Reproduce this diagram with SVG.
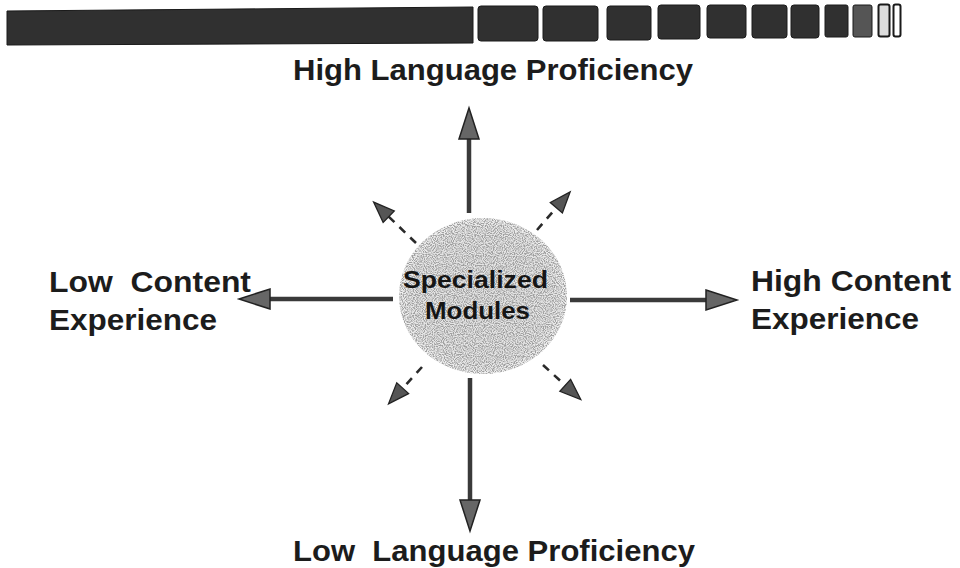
<svg xmlns="http://www.w3.org/2000/svg" width="960" height="568" viewBox="0 0 960 568">
  <style>
    .lbl { font-family: "Liberation Sans", Arial, sans-serif; font-weight: bold; font-size: 29px; fill: #1c1c1c; }
    .ctr { font-family: "Liberation Sans", Arial, sans-serif; font-weight: bold; font-size: 24px; fill: #151515; }
    .blk { fill: #303030; stroke: #1a1a1a; stroke-width: 1; }
    .shaft { stroke: #3a3a3a; stroke-width: 4.5; fill: none; }
    .dash { stroke: #2a2a2a; stroke-width: 2.6; fill: none; stroke-dasharray: 8 7; }
  </style>
  <defs>
    <marker id="headBig" markerUnits="userSpaceOnUse" markerWidth="32" markerHeight="22" viewBox="0 0 32 22" refX="1" refY="11" orient="auto" overflow="visible">
      <path d="M0,1 L31,11 L0,21 Z" fill="#666" stroke="#222" stroke-width="1.5" stroke-dasharray="none"/>
    </marker>
    <marker id="headSmall" markerUnits="userSpaceOnUse" markerWidth="22" markerHeight="18" viewBox="0 0 22 18" refX="1" refY="9" orient="auto" overflow="visible">
      <path d="M0,1 L21,9 L0,17 Z" fill="#555" stroke="#222" stroke-width="1.3" stroke-dasharray="none"/>
    </marker>
    <radialGradient id="ballFill" cx="50%" cy="50%" r="50%">
      <stop offset="0%" stop-color="#e2e2e2"/>
      <stop offset="85%" stop-color="#e6e6e6"/>
      <stop offset="100%" stop-color="#f2f2f2"/>
    </radialGradient>
    <filter id="stipple" x="0" y="0" width="100%" height="100%">
      <feTurbulence type="fractalNoise" baseFrequency="0.9" numOctaves="1" seed="7" result="n"/>
      <feColorMatrix in="n" type="matrix" values="0 0 0 0 0.35  0 0 0 0 0.35  0 0 0 0 0.35  4 0 0 0 -1.55" result="dots"/>
      <feComposite in="dots" in2="SourceGraphic" operator="in" result="clipped"/>
      <feMerge>
        <feMergeNode in="SourceGraphic"/>
        <feMergeNode in="clipped"/>
      </feMerge>
    </filter>
  </defs>

  <g id="header-bar">
    <polygon class="blk" points="7,11 473,7 473,43 7,45"/>
    <rect class="blk" x="478" y="6" width="60" height="35" rx="3"/>
    <rect class="blk" x="543" y="6" width="55" height="35" rx="3"/>
    <rect class="blk" x="607" y="6" width="44" height="34" rx="3"/>
    <rect class="blk" x="658" y="5" width="42" height="34" rx="3"/>
    <rect class="blk" x="707" y="5" width="39" height="33" rx="3"/>
    <rect class="blk" x="752" y="5" width="35" height="33" rx="3"/>
    <rect class="blk" x="791" y="5" width="28" height="33" rx="3"/>
    <rect class="blk" x="825" y="5" width="23" height="32" rx="2"/>
    <rect x="853" y="5" width="19" height="32" rx="2" fill="#555" stroke="#1a1a1a" stroke-width="1"/>
    <rect x="878.5" y="4.5" width="11" height="32" rx="2" fill="#ddd" stroke="#1a1a1a" stroke-width="2"/>
    <rect x="893.5" y="4.5" width="7" height="32" rx="2" fill="#fff" stroke="#1a1a1a" stroke-width="2"/>
  </g>

  <g id="connectors">
    <line class="shaft" x1="469" y1="213" x2="469" y2="138" marker-end="url(#headBig)"/>
    <line class="shaft" x1="470" y1="378" x2="470" y2="501" marker-end="url(#headBig)"/>
    <line class="shaft" x1="393" y1="299" x2="269" y2="299" marker-end="url(#headBig)"/>
    <line class="shaft" x1="570" y1="300" x2="707" y2="300" marker-end="url(#headBig)"/>
    <line class="dash" x1="416" y1="243" x2="388" y2="216" marker-end="url(#headSmall)"/>
    <line class="dash" x1="537" y1="230" x2="557" y2="207" marker-end="url(#headSmall)"/>
    <line class="dash" x1="422" y1="367" x2="402" y2="389" marker-end="url(#headSmall)"/>
    <line class="dash" x1="543" y1="365" x2="566" y2="386" marker-end="url(#headSmall)"/>
  </g>

  <g id="specialized-modules">
    <ellipse cx="483" cy="296" rx="84" ry="78" fill="url(#ballFill)" filter="url(#stipple)"/>
    <text class="ctr" x="403" y="288" textLength="145" lengthAdjust="spacingAndGlyphs">Specialized</text>
    <text class="ctr" x="425" y="319" textLength="105" lengthAdjust="spacingAndGlyphs">Modules</text>
  </g>

  <g id="high-language">
    <text class="lbl" x="293" y="80" textLength="400" lengthAdjust="spacingAndGlyphs">High Language Proficiency</text>
  </g>
  <g id="low-language">
    <text class="lbl" x="293" y="561" textLength="402" lengthAdjust="spacingAndGlyphs" xml:space="preserve">Low  Language Proficiency</text>
  </g>
  <g id="low-content">
    <text class="lbl" x="49" y="292" textLength="202" lengthAdjust="spacingAndGlyphs" xml:space="preserve">Low  Content</text>
    <text class="lbl" x="49" y="330" textLength="168" lengthAdjust="spacingAndGlyphs">Experience</text>
  </g>
  <g id="high-content">
    <text class="lbl" x="751" y="291" textLength="200" lengthAdjust="spacingAndGlyphs">High Content</text>
    <text class="lbl" x="751" y="329" textLength="168" lengthAdjust="spacingAndGlyphs">Experience</text>
  </g>
</svg>
